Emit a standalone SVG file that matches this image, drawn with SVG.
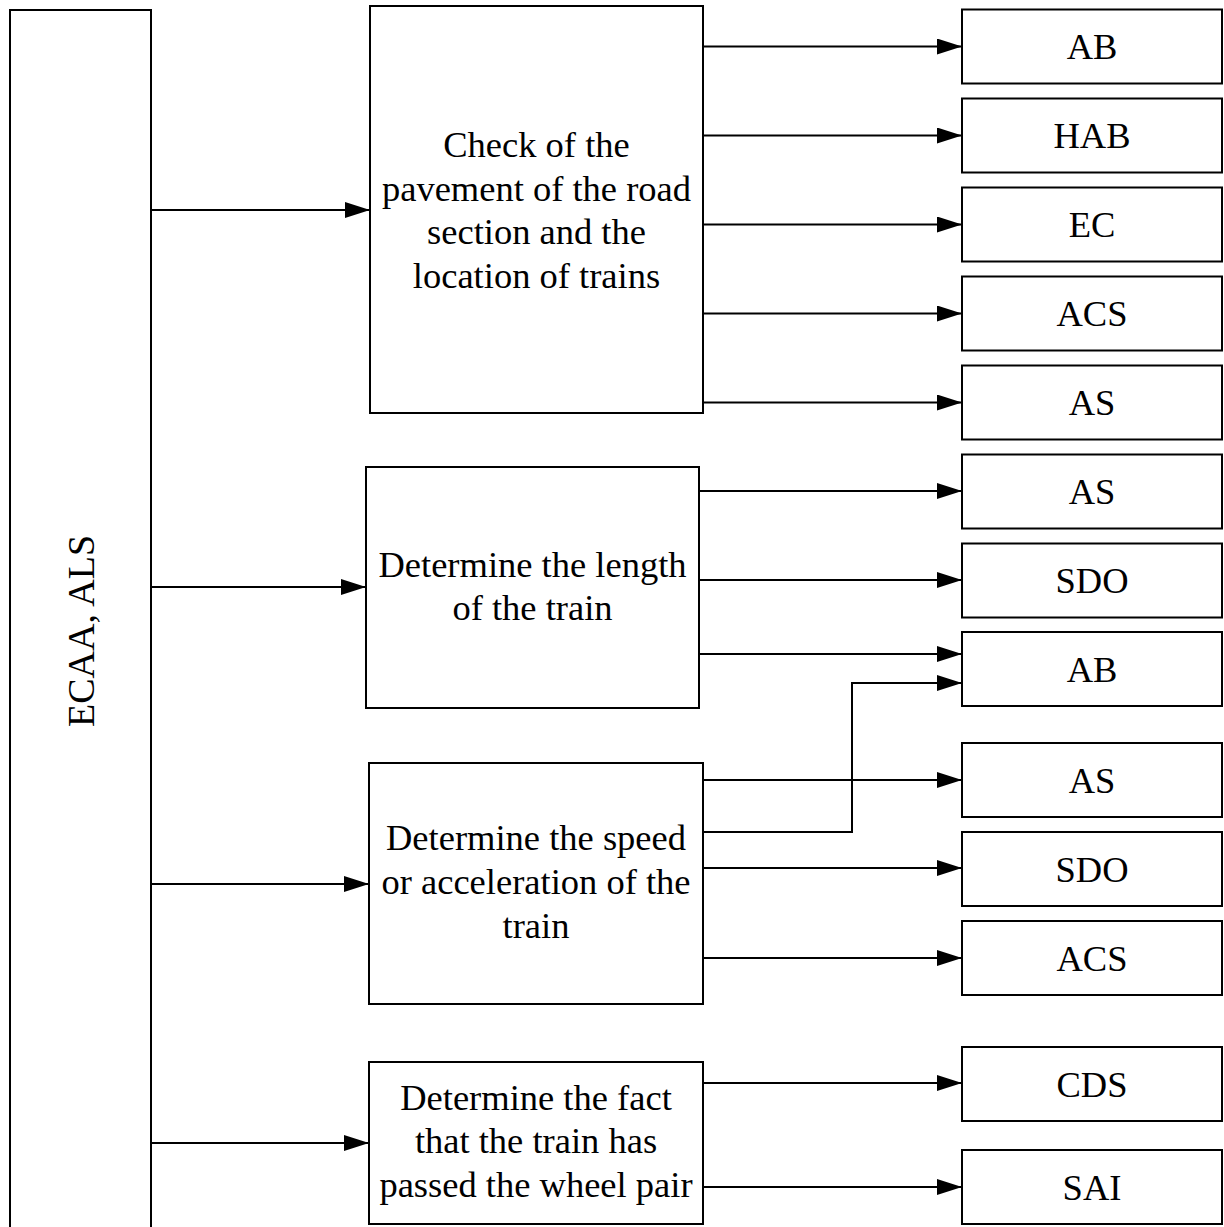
<svg xmlns="http://www.w3.org/2000/svg" width="1224" height="1227" viewBox="0 0 1224 1227">
<style>
.box{fill:#fff;stroke:#000;stroke-width:2}
.ln{fill:none;stroke:#000;stroke-width:2;marker-end:url(#ah)}
.t{font-family:"Liberation Serif","Times New Roman",serif;font-size:36.5px;fill:#000;text-anchor:middle}
</style>
<defs>
<marker id="ah" markerUnits="userSpaceOnUse" markerWidth="25" markerHeight="16" refX="25" refY="8" orient="auto">
<path d="M0,0 L25,8 L0,16 z" fill="#000"/>
</marker>
</defs>
<g id="connectors">
<path class="ln" d="M151,210 H370"/>
<path class="ln" d="M151,587 H366"/>
<path class="ln" d="M151,884 H369"/>
<path class="ln" d="M151,1143 H369"/>
<path class="ln" d="M703,46.5 H962"/>
<path class="ln" d="M703,135.5 H962"/>
<path class="ln" d="M703,224.5 H962"/>
<path class="ln" d="M703,313.5 H962"/>
<path class="ln" d="M703,402.5 H962"/>
<path class="ln" d="M699,491 H962"/>
<path class="ln" d="M699,580 H962"/>
<path class="ln" d="M699,654 H962"/>
<path class="ln" d="M703,780 H962"/>
<path class="ln" d="M703,832 H852 V683 H962"/>
<path class="ln" d="M703,868 H962"/>
<path class="ln" d="M703,958 H962"/>
<path class="ln" d="M703,1083 H962"/>
<path class="ln" d="M703,1187 H962"/>
</g>
<g id="ecaa">
<path class="box" d="M10,1240 V10 H151 V1240"/>
<text class="t" style="font-size:38px" transform="translate(94,631) rotate(-90)">ECAA, ALS</text>
</g>
<g id="check">
<rect class="box" x="370" y="6" width="333" height="407"/>
<text class="t" x="536.5" y="157">Check of the</text>
<text class="t" x="536.5" y="200.5">pavement of the road</text>
<text class="t" x="536.5" y="244">section and the</text>
<text class="t" x="536.5" y="287.5">location of trains</text>
</g>
<g id="length">
<rect class="box" x="366" y="467" width="333" height="241"/>
<text class="t" x="532.5" y="577">Determine the length</text>
<text class="t" x="532.5" y="620">of the train</text>
</g>
<g id="speed">
<rect class="box" x="369" y="763" width="334" height="241"/>
<text class="t" x="536" y="850">Determine the speed</text>
<text class="t" x="536" y="894">or acceleration of the</text>
<text class="t" x="536" y="938">train</text>
</g>
<g id="wheel">
<rect class="box" x="369" y="1062" width="334" height="162"/>
<text class="t" x="536" y="1110">Determine the fact</text>
<text class="t" x="536" y="1153">that the train has</text>
<text class="t" x="536" y="1197">passed the wheel pair</text>
</g>
<g id="r1"><rect class="box" x="962" y="9.5" width="260" height="74"/><text class="t" x="1092" y="59">AB</text></g>
<g id="r2"><rect class="box" x="962" y="98.5" width="260" height="74"/><text class="t" x="1092" y="148">HAB</text></g>
<g id="r3"><rect class="box" x="962" y="187.5" width="260" height="74"/><text class="t" x="1092" y="237">EC</text></g>
<g id="r4"><rect class="box" x="962" y="276.5" width="260" height="74"/><text class="t" x="1092" y="326">ACS</text></g>
<g id="r5"><rect class="box" x="962" y="365.5" width="260" height="74"/><text class="t" x="1092" y="415">AS</text></g>
<g id="r6"><rect class="box" x="962" y="454.5" width="260" height="74"/><text class="t" x="1092" y="504">AS</text></g>
<g id="r7"><rect class="box" x="962" y="543.5" width="260" height="74"/><text class="t" x="1092" y="593">SDO</text></g>
<g id="r8"><rect class="box" x="962" y="632" width="260" height="74"/><text class="t" x="1092" y="681.5">AB</text></g>
<g id="r9"><rect class="box" x="962" y="743" width="260" height="74"/><text class="t" x="1092" y="792.5">AS</text></g>
<g id="r10"><rect class="box" x="962" y="832" width="260" height="74"/><text class="t" x="1092" y="881.5">SDO</text></g>
<g id="r11"><rect class="box" x="962" y="921" width="260" height="74"/><text class="t" x="1092" y="970.5">ACS</text></g>
<g id="r12"><rect class="box" x="962" y="1047" width="260" height="74"/><text class="t" x="1092" y="1096.5">CDS</text></g>
<g id="r13"><rect class="box" x="962" y="1150" width="260" height="74"/><text class="t" x="1092" y="1199.5">SAI</text></g>
</svg>
